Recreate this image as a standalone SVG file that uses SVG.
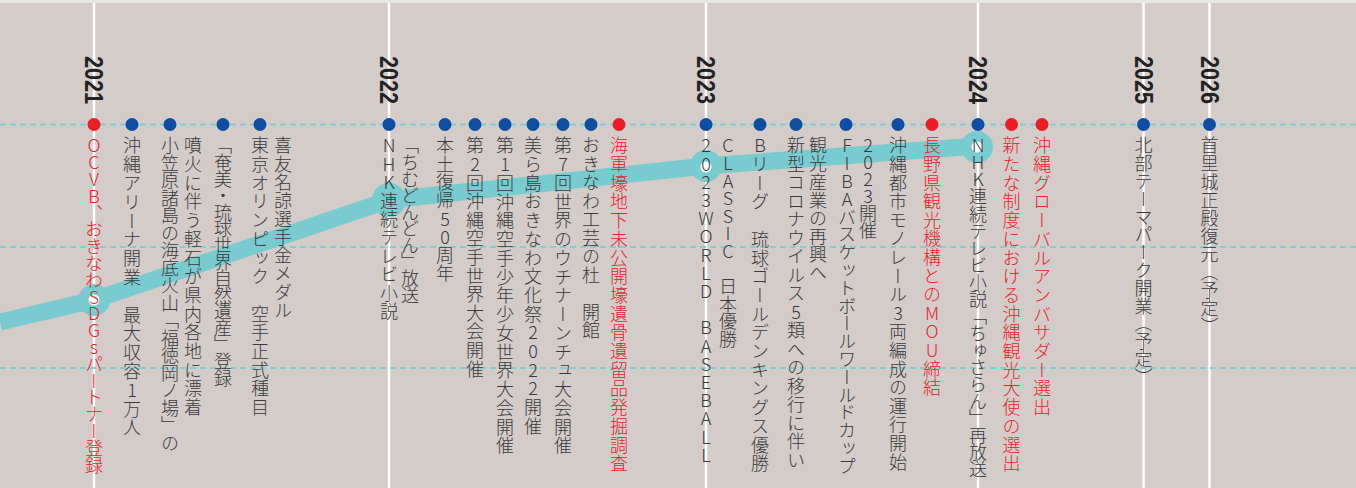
<svg xmlns="http://www.w3.org/2000/svg" width="1356" height="488" viewBox="0 0 1356 488">
<style>
.bg{fill:#d4ccc9}
.top{fill:#e9e7e5}
.vl{stroke:#ffffff;stroke-width:2.5}
.dash{stroke:#7fd0d4;stroke-width:2;stroke-dasharray:6 4;fill:none}
.band{fill:none;stroke:#78cbcf;stroke-width:17;stroke-linejoin:round;stroke-linecap:butt}
.ring{fill:#78cbcf}
.hole{fill:#ffffff}
.yr{font-family:"Liberation Sans",Arial,sans-serif;font-weight:bold;font-size:25px;fill:#222222}
.t{font-family:"Noto Sans CJK JP","Noto Sans CJK SC",sans-serif;font-size:18px;font-weight:300;writing-mode:vertical-rl;text-orientation:upright;fill:#3a3a3a}
.tr{fill:#e8212a}
.db{fill:#0d4ea2}
.dr{fill:#ee1c25}
.nv{font-feature-settings:"vert" 0}
</style>
<rect class="bg" x="0" y="0" width="1356" height="488"/>
<rect class="top" x="0" y="0" width="1356" height="3"/>
<g id="year-lines">
<line class="vl" x1="94" y1="3" x2="94" y2="488"/>
<line class="vl" x1="389" y1="3" x2="389" y2="488"/>
<line class="vl" x1="706" y1="3" x2="706" y2="488"/>
<line class="vl" x1="978" y1="3" x2="978" y2="488"/>
<line class="vl" x1="1143.5" y1="3" x2="1143.5" y2="488"/>
<line class="vl" x1="1209.5" y1="3" x2="1209.5" y2="488"/>
</g>
<g id="grid">
<line class="dash" x1="0" y1="124.5" x2="1356" y2="124.5"/>
<line class="dash" x1="0" y1="247" x2="1356" y2="247"/>
<line class="dash" x1="0" y1="368" x2="1356" y2="368"/>
</g>
<g id="connectors">
<polyline class="band" points="0,322 94,300 389,200 706,166 978,146"/>
<circle class="ring" cx="94" cy="300" r="16"/>
<circle class="hole" cx="94" cy="300" r="5.5"/>
<circle class="ring" cx="389" cy="200" r="17"/>
<circle class="ring" cx="706" cy="166" r="16"/>
<circle class="hole" cx="706" cy="167" r="5.5"/>
<circle class="ring" cx="977" cy="147" r="16"/>
<circle class="hole" cx="977" cy="147" r="5.5"/>
</g>
<g id="year-2021"><text class="yr" transform="translate(94,56) rotate(90)" dy="0.36em" textLength="48" lengthAdjust="spacingAndGlyphs">2021</text></g>
<g id="year-2022"><text class="yr" transform="translate(389,56) rotate(90)" dy="0.36em" textLength="48" lengthAdjust="spacingAndGlyphs">2022</text></g>
<g id="year-2023"><text class="yr" transform="translate(706,56) rotate(90)" dy="0.36em" textLength="48" lengthAdjust="spacingAndGlyphs">2023</text></g>
<g id="year-2024"><text class="yr" transform="translate(978,56) rotate(90)" dy="0.36em" textLength="48" lengthAdjust="spacingAndGlyphs">2024</text></g>
<g id="year-2025"><text class="yr" transform="translate(1143.5,56) rotate(90)" dy="0.36em" textLength="48" lengthAdjust="spacingAndGlyphs">2025</text></g>
<g id="year-2026"><text class="yr" transform="translate(1209.5,56) rotate(90)" dy="0.36em" textLength="48" lengthAdjust="spacingAndGlyphs">2026</text></g>

<g id="ev-ocvb"><circle class="dr" cx="94" cy="124.5" r="6.5"/><text class="t tr" x="94" y="136.5" letter-spacing="-1.2">OCVB、おきなわSDGsパートナー登録</text></g>
<g id="ev-arena"><circle class="db" cx="132" cy="124.5" r="6.5"/><text class="t" x="132" y="136.5" letter-spacing="0.8">沖縄アリーナ開業　最大収容1万人</text></g>
<g id="ev-pumice"><circle class="db" cx="170" cy="124.5" r="6.5"/><text class="t" x="170" y="136.5" letter-spacing="-0.5">小笠原諸島の海底火山<tspan class="nv">「</tspan>福徳岡ノ場<tspan class="nv">」</tspan>の</text><text class="t" x="193" y="136.5" letter-spacing="0.7">噴火に伴う軽石が県内各地に漂着</text></g>
<g id="ev-heritage"><circle class="db" cx="223" cy="124.5" r="6.5"/><text class="t" x="223" y="136.5" letter-spacing="-1.4"><tspan class="nv">「</tspan>奄美・琉球世界自然遺産<tspan class="nv">」</tspan>登録</text></g>
<g id="ev-olympic"><circle class="db" cx="260" cy="124.5" r="6.5"/><text class="t" x="260" y="136.5" letter-spacing="0.7">東京オリンピック　空手正式種目</text><text class="t" x="283" y="136.5" letter-spacing="0.3">喜友名諒選手金メダル</text></g>

<g id="ev-chimudondon"><circle class="db" cx="389" cy="124.5" r="6.5"/><text class="t" x="389" y="136.5" letter-spacing="0.4">NHK連続テレビ小説</text><text class="t" x="410" y="136.5" letter-spacing="-1.4"><tspan class="nv">「</tspan>ちむどんどん<tspan class="nv">」</tspan>放送</text></g>
<g id="ev-reversion"><circle class="db" cx="445" cy="124.5" r="6.5"/><text class="t" x="445" y="136.5" letter-spacing="0.3">本土復帰50周年</text></g>
<g id="ev-karate2"><circle class="db" cx="475" cy="124.5" r="6.5"/><text class="t" x="475" y="136.5" letter-spacing="0.6">第2回沖縄空手世界大会開催</text></g>
<g id="ev-karate1"><circle class="db" cx="505" cy="124.5" r="6.5"/><text class="t" x="505" y="136.5" letter-spacing="0.75">第1回沖縄空手少年少女世界大会開催</text></g>
<g id="ev-bunkasai"><circle class="db" cx="533" cy="124.5" r="6.5"/><text class="t" x="533" y="136.5" letter-spacing="0.7">美ら島おきなわ文化祭2022開催</text></g>
<g id="ev-uchinanchu"><circle class="db" cx="563" cy="124.5" r="6.5"/><text class="t" x="563" y="136.5" letter-spacing="0.75">第7回世界のウチナーンチュ大会開催</text></g>
<g id="ev-kogei"><circle class="db" cx="591" cy="124.5" r="6.5"/><text class="t" x="591" y="136.5" letter-spacing="0.5">おきなわ工芸の杜　開館</text></g>
<g id="ev-kaigungo"><circle class="dr" cx="619" cy="124.5" r="6.5"/><text class="t tr" x="619" y="136.5" letter-spacing="0.7">海軍壕地下未公開壕遺骨遺留品発掘調査</text></g>

<g id="ev-wbc"><circle class="db" cx="706" cy="124.5" r="6.5"/><text class="t" x="706" y="136.5" letter-spacing="0.2">2023WORLD BASEBALL</text><text class="t" x="728" y="136.5" letter-spacing="-0.4">CLASSIC 日本優勝</text></g>
<g id="ev-bleague"><circle class="db" cx="760" cy="124.5" r="6.5"/><text class="t" x="760" y="136.5" letter-spacing="0.7">Bリーグ　琉球ゴールデンキングス優勝</text></g>
<g id="ev-covid"><circle class="db" cx="796" cy="124.5" r="6.5"/><text class="t" x="796" y="136.5" letter-spacing="0.5">新型コロナウイルス5類への移行に伴い</text><text class="t" x="818" y="136.5" letter-spacing="0.1">観光産業の再興へ</text></g>
<g id="ev-fiba"><circle class="db" cx="846" cy="124.5" r="6.5"/><text class="t" x="847" y="136.5" letter-spacing="-0.2">FIBAバスケットボールワールドカップ</text><text class="t" x="868" y="136.5" letter-spacing="-1">2023開催</text></g>
<g id="ev-monorail"><circle class="db" cx="898" cy="124.5" r="6.5"/><text class="t" x="898" y="136.5" letter-spacing="0.6">沖縄都市モノレール3両編成の運行開始</text></g>
<g id="ev-nagano"><circle class="dr" cx="932" cy="124.5" r="6.5"/><text class="t tr" x="932" y="136.5" letter-spacing="0.6">長野県観光機構とのMOU締結</text></g>

<g id="ev-churasan"><circle class="db" cx="978" cy="124.5" r="6.5"/><text class="t" x="978" y="136.5" letter-spacing="-0.95">NHK連続テレビ小説<tspan class="nv">「</tspan>ちゅさらん<tspan class="nv">」</tspan>再放送</text></g>
<g id="ev-taishi"><circle class="dr" cx="1011.5" cy="124.5" r="6.5"/><text class="t tr" x="1011.5" y="136.5" letter-spacing="0.7">新たな制度における沖縄観光大使の選出</text></g>
<g id="ev-ambassador"><circle class="dr" cx="1042" cy="124.5" r="6.5"/><text class="t tr" x="1042" y="136.5" letter-spacing="0.7">沖縄グローバルアンバサダー選出</text></g>

<g id="ev-themepark"><circle class="db" cx="1143.5" cy="124.5" r="6.5"/><text class="t" x="1143.5" y="136.5" letter-spacing="-0.2">北部テーマパーク開業（予定）</text></g>
<g id="ev-shurijo"><circle class="db" cx="1209.5" cy="124.5" r="6.5"/><text class="t" x="1209.5" y="136.5" letter-spacing="0.1">首里城正殿復元（予定）</text></g>
</svg>
